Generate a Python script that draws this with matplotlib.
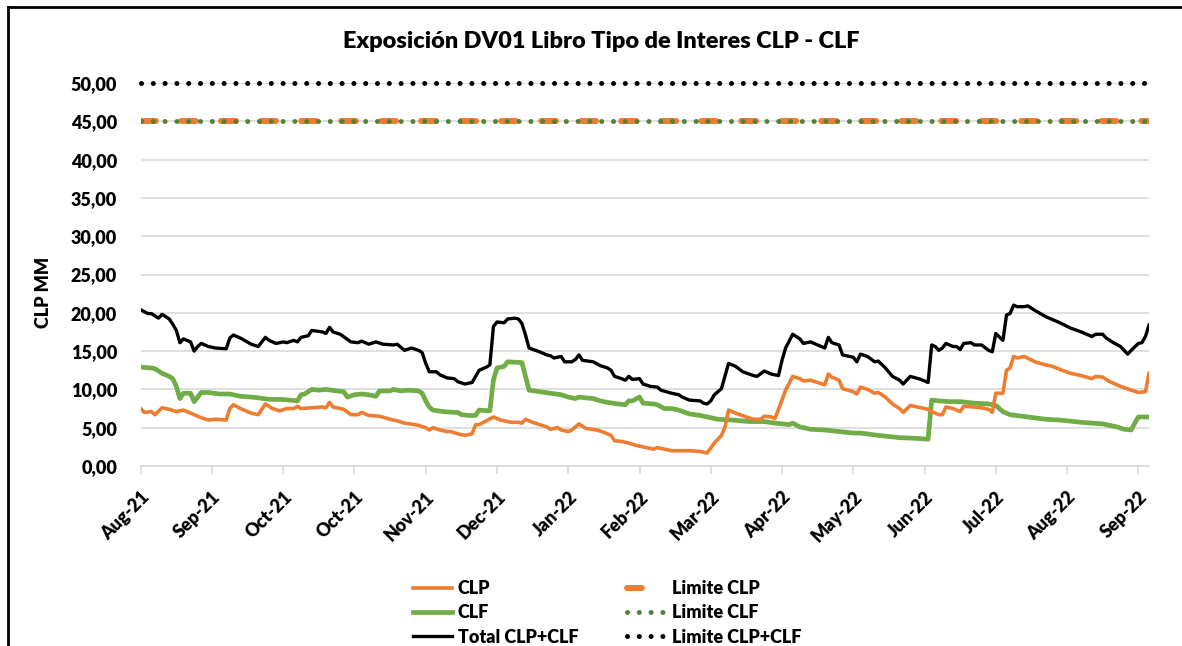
import matplotlib
matplotlib.use("Agg")
import matplotlib.pyplot as plt
from matplotlib.lines import Line2D

plt.rcParams['font.family'] = ['Lato', 'DejaVu Sans']
FW = 'heavy'

# ---- data (observation index, value) ----
tick_labels = ["Aug-21", "Sep-21", "Oct-21", "Oct-21", "Nov-21", "Dec-21", "Jan-22",
               "Feb-22", "Mar-22", "Apr-22", "May-22", "Jun-22", "Jul-22", "Aug-22", "Sep-22"]
tick_step = 20

total_x = [0, 2, 3, 5, 6, 8, 9, 10, 11, 12, 14, 15, 16, 17, 19, 21, 24, 25, 26, 28, 31, 33, 35, 36,
           38, 40, 41, 43, 44, 45, 47, 48, 51, 52, 53, 54, 56, 59, 61, 62, 64, 66, 68, 71, 72, 74,
           76, 78, 79, 80, 81, 83, 84, 86, 88, 89, 91, 92, 93, 94, 95, 97, 98, 99, 100, 102, 103,
           105, 106, 107, 108, 109, 112, 114, 115, 116, 118, 119, 121, 122, 123, 124, 127, 129,
           131, 132, 133, 135, 136, 137, 138, 140, 141, 143, 145, 146, 149, 151, 152, 154, 157,
           158, 159, 160, 161, 163, 165, 167, 169, 172, 173, 175, 177, 179, 180, 181, 183, 185,
           186, 188, 190, 192, 193, 194, 196, 197, 200, 201, 202, 204, 206, 207, 209, 211, 213,
           214, 216, 219, 221, 222, 223, 224, 225, 226, 228, 229, 230, 231, 233, 234, 236, 238,
           239, 240, 242, 243, 244, 245, 246, 248, 249, 251, 254, 256, 258, 261, 264, 267, 268,
           270, 271, 273, 275, 276, 277, 278, 280, 281, 282, 283]
total_y = [20.4, 19.9, 19.9, 19.3, 19.8, 19.2, 18.5, 17.7, 16.1, 16.6, 16.2, 15.0, 15.6, 16.0, 15.6,
           15.4, 15.3, 16.7, 17.1, 16.7, 15.9, 15.6, 16.8, 16.4, 16.0, 16.2, 16.1, 16.4, 16.2, 16.8,
           17.0, 17.7, 17.5, 17.3, 18.1, 17.5, 17.2, 16.2, 16.1, 16.3, 15.9, 16.2, 15.9, 15.8, 15.9,
           15.1, 15.4, 15.1, 14.8, 13.4, 12.3, 12.3, 11.9, 11.5, 11.4, 11.0, 10.7, 10.8, 10.9, 11.7,
           12.5, 12.9, 13.2, 18.2, 18.8, 18.7, 19.2, 19.3, 19.2, 18.6, 17.1, 15.4, 14.9, 14.5, 14.4,
           14.1, 14.3, 13.6, 13.6, 13.9, 14.5, 13.8, 13.6, 13.1, 12.8, 12.5, 11.7, 11.4, 11.2, 11.7,
           11.3, 11.4, 10.7, 10.4, 10.3, 9.9, 9.5, 9.3, 9.0, 8.6, 8.5, 8.2, 8.1, 8.5, 9.3, 10.1,
           13.4, 13.0, 12.3, 11.8, 11.7, 12.4, 12.0, 11.8, 13.8, 15.4, 17.2, 16.6, 16.0, 16.2, 15.8,
           15.4, 16.8, 16.1, 15.8, 14.5, 14.2, 13.6, 14.6, 14.3, 13.6, 13.7, 12.8, 11.7, 11.2, 10.7,
           11.7, 11.3, 10.9, 15.8, 15.6, 15.1, 15.4, 16.0, 15.6, 15.6, 15.2, 16.0, 16.1, 15.8, 15.8,
           15.1, 14.9, 17.3, 16.4, 19.7, 19.9, 21.0, 20.8, 20.8, 20.9, 20.3, 19.5, 19.1, 18.7, 18.0,
           17.5, 16.9, 17.2, 17.2, 16.7, 16.1, 15.6, 15.1, 14.6, 15.1, 16.0, 16.1, 16.9, 18.4]

clf_x = [0, 3, 4, 6, 8, 9, 10, 11, 12, 14, 15, 16, 17, 19, 22, 25, 28, 31, 33, 36, 39, 42, 44, 45,
         46, 48, 50, 52, 55, 57, 58, 60, 62, 64, 66, 67, 70, 71, 73, 75, 78, 79, 80, 81, 82, 85,
         88, 89, 90, 92, 94, 95, 98, 99, 100, 102, 103, 107, 108, 109, 112, 115, 118, 120, 122,
         123, 127, 129, 131, 134, 136, 137, 138, 140, 141, 144, 145, 147, 149, 151, 154, 157, 159,
         162, 166, 171, 175, 178, 182, 183, 185, 188, 192, 196, 200, 202, 207, 213, 218, 221, 222,
         224, 227, 230, 234, 238, 240, 242, 244, 249, 254, 258, 264, 270, 274, 276, 278, 279, 280,
         283]
clf_y = [12.9, 12.8, 12.7, 12.1, 11.7, 11.4, 10.4, 8.8, 9.5, 9.5, 8.4, 9.0, 9.6, 9.6, 9.4, 9.4, 9.1,
         9.0, 8.9, 8.7, 8.7, 8.6, 8.5, 9.3, 9.4, 10.0, 9.9, 10.0, 9.8, 9.7, 9.0, 9.3, 9.4, 9.3, 9.1,
         9.8, 9.8, 10.0, 9.8, 9.9, 9.8, 9.5, 8.5, 7.7, 7.3, 7.1, 7.0, 7.0, 6.7, 6.6, 6.6, 7.3, 7.2,
         11.2, 12.8, 13.0, 13.6, 13.5, 11.7, 9.9, 9.7, 9.5, 9.3, 9.0, 8.8, 9.0, 8.8, 8.5, 8.3, 8.1,
         8.0, 8.5, 8.5, 9.0, 8.2, 8.1, 8.0, 7.5, 7.5, 7.3, 6.8, 6.6, 6.4, 6.1, 6.0, 5.8, 5.8, 5.6,
         5.4, 5.6, 5.1, 4.8, 4.7, 4.5, 4.3, 4.3, 4.0, 3.7, 3.6, 3.5, 8.6, 8.5, 8.4, 8.4, 8.2, 8.1,
         7.9, 7.1, 6.7, 6.4, 6.1, 6.0, 5.7, 5.5, 5.1, 4.8, 4.7, 5.6, 6.4, 6.4]

clp_x = [0, 1, 3, 4, 6, 8, 10, 12, 14, 16, 17, 19, 21, 24, 25, 26, 28, 31, 33, 35, 37, 39, 41, 43,
         44, 45, 48, 51, 52, 53, 54, 57, 59, 61, 62, 64, 67, 70, 72, 74, 77, 78, 80, 81, 82, 84,
         86, 87, 89, 91, 93, 94, 95, 97, 99, 101, 102, 104, 106, 107, 108, 110, 112, 114, 115,
         117, 118, 120, 121, 123, 125, 128, 130, 132, 133, 135, 137, 139, 142, 144, 145, 147, 149,
         152, 154, 157, 159, 161, 163, 164, 165, 167, 170, 172, 174, 175, 177, 178, 180, 181, 183,
         185, 186, 188, 190, 192, 193, 194, 196, 197, 200, 201, 202, 204, 206, 207, 209, 211, 213,
         214, 216, 219, 221, 222, 224, 225, 226, 228, 230, 231, 234, 236, 238, 239, 240, 242, 243,
         244, 245, 246, 248, 251, 254, 256, 258, 261, 264, 267, 268, 270, 272, 275, 278, 280, 282,
         283]
clp_y = [7.5, 7.0, 7.1, 6.7, 7.6, 7.4, 7.1, 7.3, 6.9, 6.5, 6.3, 6.0, 6.1, 6.0, 7.5, 8.0, 7.5, 6.9,
         6.7, 8.1, 7.5, 7.2, 7.5, 7.5, 7.8, 7.5, 7.6, 7.7, 7.6, 8.3, 7.7, 7.4, 6.7, 6.7, 7.0, 6.6,
         6.5, 6.1, 5.9, 5.6, 5.4, 5.3, 5.0, 4.7, 5.0, 4.7, 4.5, 4.5, 4.2, 4.0, 4.2, 5.4, 5.4, 5.9,
         6.4, 6.0, 5.9, 5.7, 5.7, 5.6, 6.1, 5.7, 5.4, 5.1, 4.8, 5.0, 4.7, 4.5, 4.7, 5.5, 4.9, 4.7,
         4.4, 4.0, 3.3, 3.2, 3.0, 2.7, 2.4, 2.2, 2.4, 2.2, 2.0, 2.0, 2.0, 1.9, 1.7, 3.0, 4.0, 5.1,
         7.3, 6.9, 6.4, 6.1, 6.1, 6.5, 6.4, 6.2, 8.6, 9.9, 11.7, 11.4, 11.1, 11.2, 10.9, 10.6, 12.0,
         11.6, 11.2, 10.1, 9.7, 9.4, 10.3, 10.0, 9.5, 9.6, 9.0, 8.1, 7.5, 7.0, 7.9, 7.6, 7.4, 7.1,
         6.7, 6.7, 7.7, 7.5, 7.1, 7.8, 7.7, 7.6, 7.4, 7.0, 9.5, 9.5, 12.5, 12.8, 14.3, 14.1, 14.3,
         13.6, 13.2, 13.0, 12.6, 12.1, 11.8, 11.4, 11.7, 11.6, 11.0, 10.4, 9.9, 9.6, 9.7, 12.1]

limit_clp = 45.0
limit_clf = 45.0
limit_total = 50.0
n_obs = 283

# ---- figure ----
fig = plt.figure(figsize=(11.82, 6.46), dpi=100)
W, H = 1182, 646
ax_w = 1149 - 140.7
ax = fig.add_axes([140.7 / W, 1 - 466 / H, ax_w / W, (466 - 83) / H])

ax.set_xlim(0, n_obs)
ax.set_ylim(0, 50)

orange = '#ED7D31'
green = '#70AD47'
dgreen = '#548235'

ax.plot(clp_x, clp_y, color=orange, lw=2.6, solid_joinstyle='round', zorder=4, label='CLP')
ax.plot(clf_x, clf_y, color=green, lw=3.4, solid_joinstyle='round', zorder=3, label='CLF')
ax.plot(total_x, total_y, color='black', lw=2.4, solid_joinstyle='round', zorder=5, label='Total CLP+CLF')

xs = [0, n_obs]
ax.plot(xs, [limit_clp] * 2, color=orange, lw=4.3, linestyle=(0, (2.5, 4.2)),
        dash_capstyle='round', zorder=4, label='Limite CLP')
ax.plot(xs, [limit_clf] * 2, color=dgreen, lw=3.6, linestyle=(0, (0.01, 2.35)),
        dash_capstyle='round', zorder=5, label='Limite CLF')
ax.plot(xs, [limit_total] * 2, color='black', lw=3.6, linestyle=(0, (0.01, 2.35)),
        dash_capstyle='round', zorder=5, label='Limite CLP+CLF', clip_on=False)

# grid & axes
ax.set_yticks(range(0, 51, 5))
ax.set_yticklabels([f"{v},00" for v in range(0, 51, 5)], fontsize=13, fontweight=FW)
ax.yaxis.grid(True, color='#D9D9D9', lw=1.2, zorder=0)
ax.set_axisbelow(True)
ax.tick_params(axis='y', length=0, pad=17)

ticks = [i * tick_step for i in range(len(tick_labels))]
ax.set_xticks(ticks)
ax.set_xticklabels(tick_labels, rotation=45, ha='right', rotation_mode='anchor',
                   fontsize=13, fontweight=FW)
ax.tick_params(axis='x', length=6, width=1.2, color='#D9D9D9', pad=10)

for s in ['top', 'right', 'left']:
    ax.spines[s].set_visible(False)
ax.spines['bottom'].set_color('#D9D9D9')
ax.spines['bottom'].set_linewidth(1.2)

ax.set_ylabel('CLP MM', fontsize=13, fontweight=FW)
ax.yaxis.set_label_coords((52 - 140.7) / ax_w, 0.452)

fig.text(601 / W, 1 - 41 / H, 'Exposición DV01 Libro Tipo de Interes CLP - CLF',
         ha='center', va='center', fontsize=16.9, fontweight=FW)

handles, labels = ax.get_legend_handles_labels()
leg = fig.legend(handles, labels, ncol=2, loc='center', bbox_to_anchor=(607 / W, 1 - 613 / H),
                 frameon=False, prop={'weight': FW, 'size': 13},
                 handlelength=2.2, handletextpad=0.3, columnspacing=2.7, labelspacing=0.4)

# outer frame (top & left)
fig.add_artist(Line2D([8 / W, 8 / W], [0, 1 - 7 / H], color='black', lw=2, transform=fig.transFigure))
fig.add_artist(Line2D([8 / W, 1], [1 - 7 / H, 1 - 7 / H], color='black', lw=2, transform=fig.transFigure))

fig.savefig('out.png', dpi=100)
